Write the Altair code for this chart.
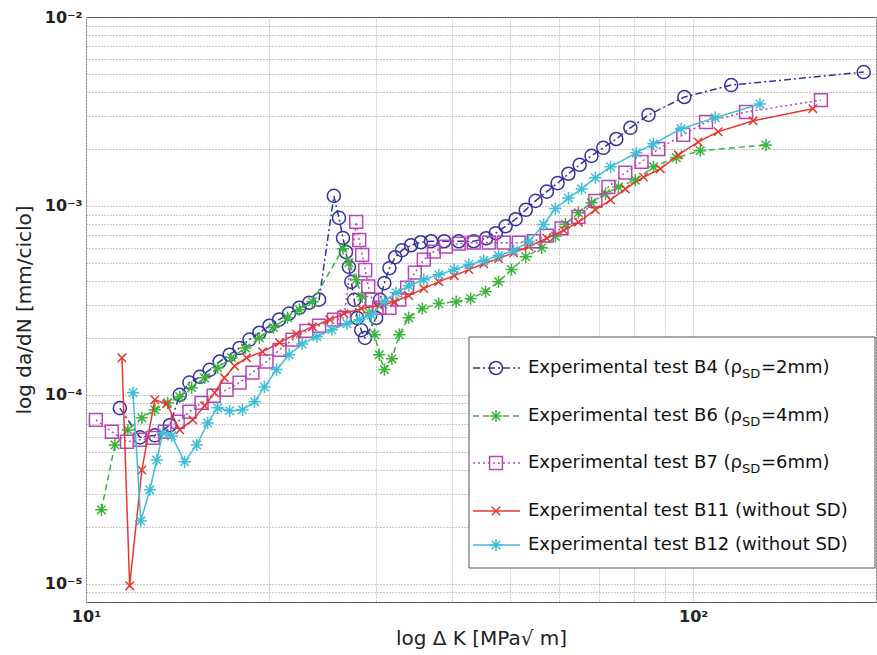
import altair as alt
import pandas as pd

# ---------------- data ----------------
series_names = ["B4", "B6", "B7", "B11", "B12"]

B4_dk = [11.37, 12.27, 12.98, 13.74, 14.27, 14.8, 15.4, 15.98, 16.6, 17.24, 17.9, 18.59, 19.3, 20.05, 20.8,
         21.6, 22.46, 23.3, 24.2, 25.6, 26.1, 26.5, 26.8, 27.1, 27.35, 27.65, 27.97, 28.4, 28.8, 30.05, 30.5,
         31.0, 31.6, 32.3, 33.15, 34.3, 35.6, 37.0, 38.9, 41.1, 43.5, 45.6, 47.3, 49.1, 51.0, 53.0, 55.0, 57.4,
         59.8, 62.3, 65.0, 68.0, 71.1, 74.7, 78.8, 84.4, 96.7, 115.5, 190.9]
B4_dadn = [8.5e-5, 5.95e-5, 6.1e-5, 6.9e-5, 1.0e-4, 1.16e-4, 1.245e-4, 1.356e-4, 1.5e-4, 1.63e-4, 1.77e-4, 1.96e-4,
           2.13e-4, 2.32e-4, 2.5e-4, 2.69e-4, 2.89e-4, 3.07e-4, 3.19e-4, 1.13e-3, 8.64e-4, 6.77e-4, 5.7e-4, 4.75e-4,
           3.96e-4, 3.18e-4, 2.55e-4, 2.2e-4, 2.0e-4, 2.55e-4, 3.18e-4, 3.9e-4, 4.68e-4, 5.35e-4, 5.83e-4, 6.19e-4,
           6.42e-4, 6.5e-4, 6.5e-4, 6.5e-4, 6.5e-4, 6.74e-4, 7.17e-4, 7.8e-4, 8.5e-4, 9.53e-4, 1.063e-3, 1.19e-3,
           1.32e-3, 1.48e-3, 1.65e-3, 1.84e-3, 2.03e-3, 2.26e-3, 2.59e-3, 3.03e-3, 3.77e-3, 4.36e-3, 5.11e-3]

B6_dk = [10.6, 11.16, 11.72, 12.36, 12.98, 13.63, 14.27, 14.93, 15.68, 16.47, 17.36, 18.31, 19.3, 20.35, 21.47,
         22.46, 23.6, 26.5, 27.1, 27.86, 28.5, 29.27, 29.9, 30.4, 31.0, 31.9, 32.8, 34.0, 35.8, 38.1, 40.7, 43.0,
         45.5, 47.8, 50.2, 53.0, 56.3, 59.3, 61.6, 64.7, 68.0, 71.7, 75.3, 80.3, 86.0, 93.8, 102.7, 131.8]
B6_dadn = [2.46e-5, 5.43e-5, 6.52e-5, 7.55e-5, 8.33e-5, 9.07e-5, 9.76e-5, 1.09e-4, 1.23e-4, 1.39e-4, 1.57e-4,
           1.77e-4, 2.0e-4, 2.27e-4, 2.56e-4, 2.82e-4, 3.11e-4, 5.94e-4, 5.0e-4, 4.07e-4, 3.31e-4, 2.72e-4, 2.08e-4,
           1.63e-4, 1.36e-4, 1.55e-4, 2.08e-4, 2.56e-4, 2.86e-4, 3.04e-4, 3.11e-4, 3.23e-4, 3.52e-4, 3.97e-4, 4.6e-4,
           5.38e-4, 6.0e-4, 6.9e-4, 8.0e-4, 9.2e-4, 1.04e-3, 1.16e-3, 1.26e-3, 1.37e-3, 1.61e-3, 1.80e-3, 1.96e-3,
           2.1e-3]

B7_dk = [10.38, 11.03, 11.68, 12.27, 12.88, 13.48, 14.16, 14.8, 15.5, 16.23, 17.04, 17.9, 18.8, 19.83, 20.83,
         21.88, 23.07, 24.2, 25.6, 26.6, 27.86, 28.18, 28.5, 28.83, 29.16, 29.6, 30.4, 31.6, 32.8, 33.8, 34.8, 36.0,
         37.4, 39.15, 41.1, 43.5, 46.07, 48.75, 51.6, 54.6, 57.4, 60.7, 64.7, 69.0, 72.5, 77.3, 82.2, 87.6, 96.3,
         105.0, 122.2, 162.3]
B7_dadn = [7.37e-5, 6.37e-5, 5.64e-5, 5.78e-5, 5.92e-5, 6.37e-5, 7.2e-5, 8.13e-5, 9.07e-5, 9.88e-5, 1.063e-4,
           1.16e-4, 1.31e-4, 1.5e-4, 1.73e-4, 1.96e-4, 2.18e-4, 2.32e-4, 2.5e-4, 2.56e-4, 8.23e-4, 6.6e-4, 5.5e-4,
           4.58e-4, 3.75e-4, 3.19e-4, 2.89e-4, 2.89e-4, 3.19e-4, 3.69e-4, 4.43e-4, 5.19e-4, 5.73e-4, 6.09e-4, 6.31e-4,
           6.39e-4, 6.39e-4, 6.39e-4, 6.39e-4, 6.5e-4, 6.96e-4, 7.61e-4, 8.74e-4, 1.063e-3, 1.26e-3, 1.5e-3, 1.71e-3,
           2.0e-3, 2.38e-3, 2.78e-3, 3.14e-3, 3.63e-3]

B11_dk = [11.46, 11.8, 12.36, 12.98, 13.58, 14.27, 14.99, 15.68, 16.29, 16.9, 17.57, 18.38, 19.53, 20.83, 22.2,
          23.6, 25.2, 26.6, 28.4, 30.4, 32.2, 34.0, 36.0, 38.1, 40.4, 42.7, 45.2, 47.8, 50.6, 53.6, 57.4, 61.2,
          64.7, 69.0, 73.1, 77.3, 82.8, 88.3, 94.5, 101.9, 109.9, 125.5, 157.4]
B11_dadn = [1.57e-4, 9.76e-6, 4.0e-5, 9.41e-5, 8.96e-5, 6.52e-5, 7.37e-5, 8.74e-5, 1.025e-4, 1.23e-4, 1.42e-4,
            1.57e-4, 1.69e-4, 1.89e-4, 2.1e-4, 2.29e-4, 2.5e-4, 2.69e-4, 2.86e-4, 2.96e-4, 3.11e-4, 3.35e-4, 3.65e-4,
            3.97e-4, 4.27e-4, 4.6e-4, 4.94e-4, 5.26e-4, 5.65e-4, 6.09e-4, 6.74e-4, 7.43e-4, 8.2e-4, 9.53e-4, 1.076e-3,
            1.23e-3, 1.42e-3, 1.57e-3, 1.86e-3, 2.18e-3, 2.47e-3, 2.82e-3, 3.27e-3]

B12_dk = [11.95, 12.31, 12.74, 13.08, 13.38, 13.84, 14.54, 15.22, 15.86, 16.47, 17.24, 18.1, 18.95, 19.67, 20.6,
          21.6, 22.7, 24.0, 25.4, 26.9, 28.2, 29.5, 31.0, 32.4, 34.0, 36.0, 38.1, 40.4, 42.7, 45.2, 47.8, 50.6,
          53.6, 56.7, 59.3, 62.3, 65.5, 69.0, 73.1, 80.6, 86.0, 95.5, 108.7, 128.8]
B12_dadn = [1.025e-4, 2.15e-5, 3.14e-5, 4.52e-5, 6.29e-5, 6.06e-5, 4.42e-5, 5.43e-5, 7.1e-5, 8.53e-5, 8.23e-5,
            8.33e-5, 9.18e-5, 1.1e-4, 1.36e-4, 1.63e-4, 1.86e-4, 2.03e-4, 2.21e-4, 2.38e-4, 2.5e-4, 2.65e-4, 3.11e-4,
            3.47e-4, 3.78e-4, 4.07e-4, 4.32e-4, 4.6e-4, 4.89e-4, 5.13e-4, 5.45e-4, 5.79e-4, 6.47e-4, 7.96e-4, 9.68e-4,
            1.1e-3, 1.23e-3, 1.41e-3, 1.61e-3, 1.91e-3, 2.13e-3, 2.56e-3, 2.93e-3, 3.46e-3]

x_ticks = [10, 20, 30, 40, 50, 60, 70, 80, 90, 100, 200]
y_ticks = [8e-6, 9e-6, 1e-5, 2e-5, 3e-5, 4e-5, 5e-5, 6e-5, 7e-5, 8e-5, 9e-5,
           1e-4, 2e-4, 3e-4, 4e-4, 5e-4, 6e-4, 7e-4, 8e-4, 9e-4,
           1e-3, 2e-3, 3e-3, 4e-3, 5e-3, 6e-3, 7e-3, 8e-3, 9e-3, 1e-2]

legend_main = ["Experimental test B4 (\u03c1", "Experimental test B6 (\u03c1", "Experimental test B7 (\u03c1",
               "Experimental test B11 (without SD)", "Experimental test B12 (without SD)"]
legend_sub = ["SD", "SD", "SD", "", ""]
legend_tail = ["=2mm)", "=4mm)", "=6mm)", "", ""]

# ---------------- styles ----------------
ASTER = "M-1,0L1,0M0,-1L0,1M-0.7,-0.7L0.7,0.7M-0.7,0.7L0.7,-0.7"
XMARK = "M-0.8,-0.8L0.8,0.8M-0.8,0.8L0.8,-0.8"
colors = ["#33339f", "#3cb43c", "#b646b6", "#e8372e", "#3fbfd6"]
dashes = [[7, 3, 2, 3], [6, 4], [2, 3], [1, 0], [1, 0]]
shapes = ["circle", ASTER, "square", XMARK, ASTER]
sizes = [170, 150, 165, 110, 150]

data = {"B4": (B4_dk, B4_dadn), "B6": (B6_dk, B6_dadn), "B7": (B7_dk, B7_dadn),
        "B11": (B11_dk, B11_dadn), "B12": (B12_dk, B12_dadn)}

x_scale = alt.Scale(type="log", domain=[10, 200], nice=False)
y_scale = alt.Scale(type="log", domain=[8e-6, 1e-2], nice=False)

FONT = "DejaVu Sans"
x_axis = alt.Axis(values=x_ticks, title="log \u0394 K [MPa\u221a m]",
                  labelExpr="datum.value == 10 ? '10\u00b9' : datum.value == 100 ? '10\u00b2' : ''",
                  grid=True, gridColor="#cfcfcf", gridDash=[2, 1], ticks=False, domain=False,
                  labelPadding=6, labelFlush=False, labelOverlap=False,
                  labelFont=FONT, labelFontSize=16, labelFontWeight="bold", labelColor="#222",
                  titleFont=FONT, titleFontSize=20, titleFontWeight="normal", titleColor="#222",
                  titlePadding=4)
y_axis = alt.Axis(values=y_ticks, title="log da/dN [mm/ciclo]",
                  labelExpr=("datum.value == 0.01 ? '10\u207b\u00b2' : datum.value == 0.001 ? '10\u207b\u00b3' : "
                             "datum.value == 0.0001 ? '10\u207b\u2074' : datum.value == 0.00001 ? '10\u207b\u2075' : ''"),
                  grid=True, gridColor="#909090", gridDash=[1, 2], ticks=False, domain=False,
                  labelPadding=4, labelFlush=False, labelOverlap=False,
                  labelFont=FONT, labelFontSize=16, labelFontWeight="bold", labelColor="#222",
                  titleFont=FONT, titleFontSize=20, titleFontWeight="normal", titleColor="#222",
                  titlePadding=10)

layers = []
for i, name in enumerate(series_names):
    dk, dadn = data[name]
    df = pd.DataFrame({"dk": dk, "dadn": dadn, "idx": list(range(len(dk)))})
    base = alt.Chart(df).encode(
        x=alt.X("dk:Q", scale=x_scale, axis=x_axis),
        y=alt.Y("dadn:Q", scale=y_scale, axis=y_axis),
        order="idx:Q",
    )
    layers.append(base.mark_line(color=colors[i], strokeWidth=1.5, strokeDash=dashes[i]))
    layers.append(base.mark_point(shape=shapes[i], filled=False, size=sizes[i], color=colors[i],
                                  strokeWidth=1.5, opacity=1))

# ---------------- manual legend ----------------
leg_y = [351, 399, 446, 494, 528]
layers.append(alt.Chart(pd.DataFrame({"a": [0]})).mark_rect(fill="white", stroke="#555", strokeWidth=1).encode(
    x=alt.value(383), x2=alt.value(789), y=alt.value(320), y2=alt.value(551)))
for i, name in enumerate(series_names):
    ldf = pd.DataFrame({"ly": [leg_y[i]], "t1": [legend_main[i]], "t2": [legend_sub[i]], "t3": [legend_tail[i]]})
    lb = alt.Chart(ldf)
    layers.append(lb.mark_rule(color=colors[i], strokeWidth=1.5, strokeDash=dashes[i]).encode(
        x=alt.value(387), x2=alt.value(434), y=alt.Y("ly:Q", scale=None)))
    layers.append(lb.mark_point(shape=shapes[i], filled=False, size=sizes[i], color=colors[i],
                                strokeWidth=1.5, opacity=1).encode(
        x=alt.value(410), y=alt.Y("ly:Q", scale=None)))
    layers.append(lb.mark_text(align="left", baseline="middle", font=FONT, fontSize=18, color="#111").encode(
        x=alt.value(442), y=alt.Y("ly:Q", scale=None), text="t1:N"))
    if legend_sub[i]:
        layers.append(lb.mark_text(align="left", baseline="middle", font=FONT, fontSize=13, color="#111",
                                   dy=6).encode(x=alt.value(656), y=alt.Y("ly:Q", scale=None), text="t2:N"))
        layers.append(lb.mark_text(align="left", baseline="middle", font=FONT, fontSize=18, color="#111").encode(
            x=alt.value(675), y=alt.Y("ly:Q", scale=None), text="t3:N"))

chart = alt.layer(*layers).properties(
    width=790, height=585,
    autosize=alt.AutoSizeParams(type="none"),
    padding={"left": 86, "top": 17, "right": 1, "bottom": 53},
    background="white",
).configure_view(stroke="#444", strokeWidth=1)

chart.save("out.html", embed_options={"renderer": "svg", "actions": False})
